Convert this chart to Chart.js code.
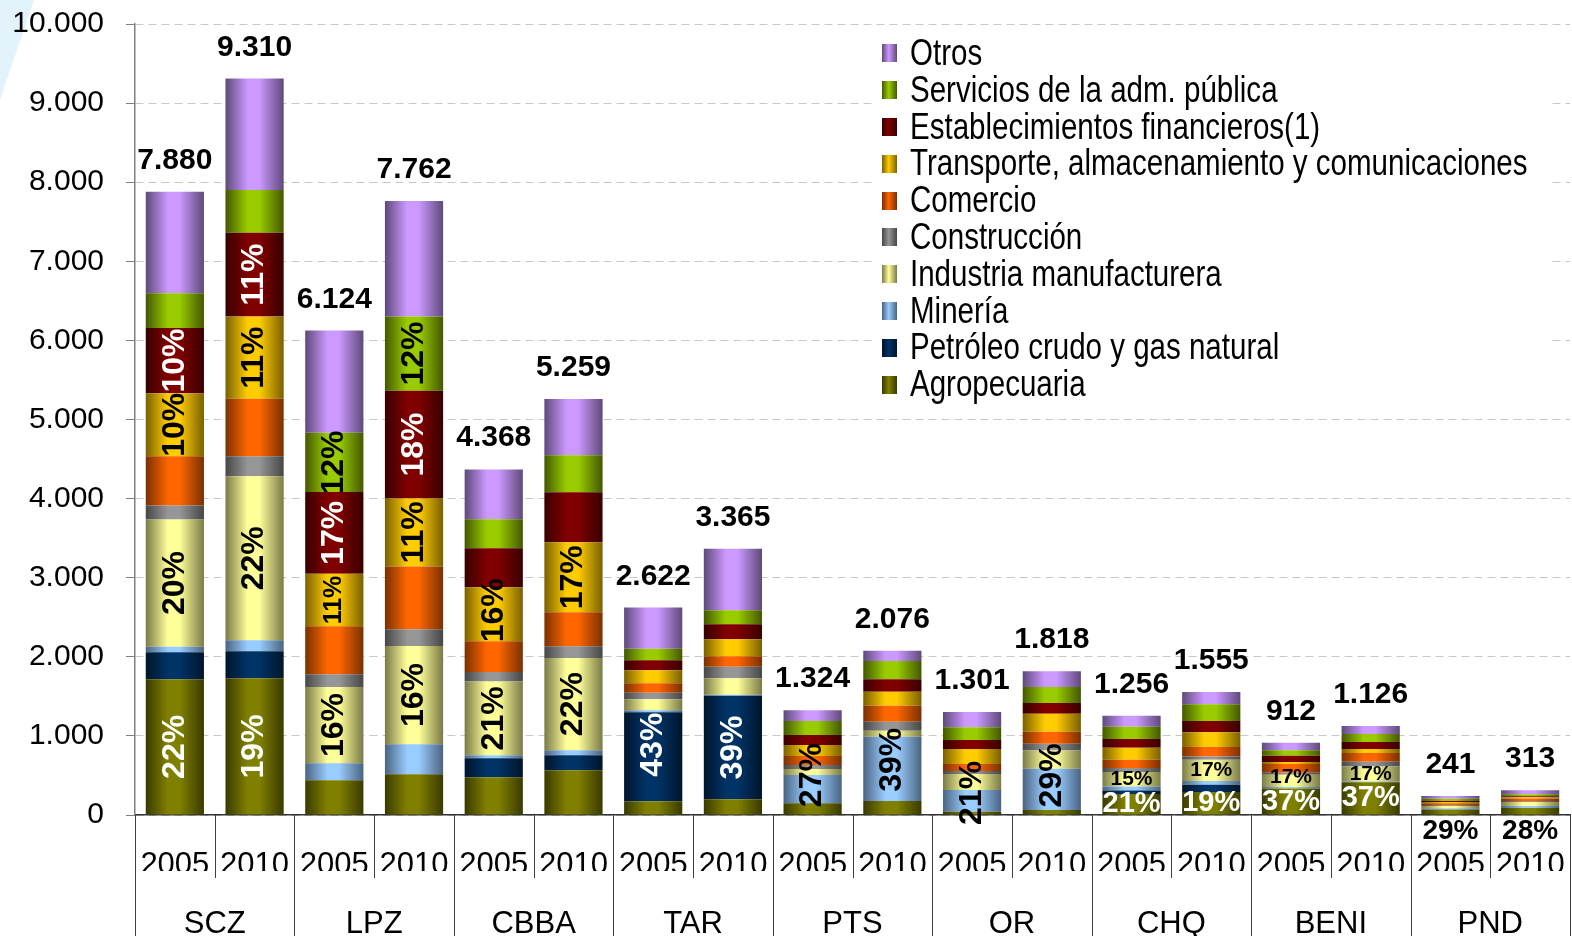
<!DOCTYPE html>
<html>
<head>
<meta charset="utf-8">
<title>PIB departamental por actividad</title>
<script src="https://cdn.jsdelivr.net/npm/chart.js@4.4.1/dist/chart.umd.min.js"></script>
<style>
  html, body { margin: 0; padding: 0; background: #fff; width: 1572px; height: 936px; overflow: hidden; }
  #wrap { position: relative; width: 1572px; height: 936px; }
  #corner { position: absolute; left: 0; top: 0; width: 34px; height: 100px; background: #e2f3fb; clip-path: polygon(0 0, 100% 0, 0 100%); }
  #chart { position: absolute; left: 0; top: 0; }
  #legend { position: absolute; left: 872px; top: 35px; width: 668px; padding-left: 10px; background: #fff;
            font-family: "Liberation Sans", Arial, sans-serif; font-size: 36px; color: #000; }
  .item { display: flex; align-items: center; height: 36.8px; line-height: 36.8px; white-space: nowrap; }
  .sw { width: 15px; height: 18px; margin-right: 13px; flex: none; }
  .txt { display: inline-block; transform: scaleX(0.82); transform-origin: left center; }
</style>
</head>
<body>
<div id="wrap">
  <div id="corner"></div>
  <canvas id="chart" width="1572" height="936"></canvas>
  <div id="legend"></div>
</div>
<script>
const SANS = '"Liberation Sans", Arial, sans-serif';

// categories
const regions = ['SCZ', 'LPZ', 'CBBA', 'TAR', 'PTS', 'OR', 'CHQ', 'BENI', 'PND'];
const years = ['2005', '2010'];
const barLabels = regions.flatMap(() => years);

// series values, one per bar (SCZ 2005, SCZ 2010, LPZ 2005, ...)
const agropecuaria = [1716, 1728, 440, 516, 476, 565, 175, 198, 148, 177, 40, 63, 265, 292, 335, 415, 70, 88];
const petroleo     = [341, 341, 0, 0, 240, 189, 1125, 1311, 0, 0, 0, 0, 45, 92, 0, 0, 0, 0];
const mineria      = [71, 139, 215, 379, 38, 64, 23, 12, 358, 813, 276, 522, 50, 45, 20, 8, 15, 25];
const industria    = [1609, 2074, 964, 1242, 935, 1167, 139, 207, 76, 76, 202, 231, 185, 268, 155, 190, 30, 50];
const construccion = [177, 252, 160, 210, 118, 147, 85, 147, 50, 114, 38, 85, 50, 42, 25, 60, 10, 15];
const comercio     = [620, 728, 606, 796, 389, 430, 118, 131, 114, 202, 89, 151, 105, 121, 110, 112, 25, 30];
const transporte   = [799, 1039, 666, 859, 682, 885, 164, 215, 139, 177, 189, 228, 150, 187, 25, 50, 15, 15];
const financieros  = [825, 1060, 1031, 1363, 493, 632, 126, 189, 126, 156, 114, 135, 112, 142, 80, 88, 12, 15];
const servicios    = [438, 539, 749, 938, 367, 468, 148, 177, 177, 232, 161, 202, 154, 212, 70, 100, 30, 25];
const otros        = [1284, 1410, 1293, 1459, 630, 712, 519, 778, 136, 129, 192, 201, 140, 154, 92, 103, 34, 50];

const seriesNames = ['Agropecuaria', 'Petróleo crudo y gas natural', 'Minería', 'Industria manufacturera',
  'Construcción', 'Comercio', 'Transporte, almacenamiento y comunicaciones', 'Establecimientos financieros(1)',
  'Servicios de la adm. pública', 'Otros'];
const seriesValues = [agropecuaria, petroleo, mineria, industria, construccion, comercio, transporte, financieros, servicios, otros];

// [edge, centre] colours for the shaded bars
const palette = [
  ['#3a3a00', '#808000'], ['#00152b', '#003366'], ['#4a6480', '#99ccff'], ['#7a7a48', '#ffff99'],
  ['#464646', '#969696'], ['#7a3000', '#ff6600'], ['#7a6000', '#ffcc00'], ['#380000', '#800000'],
  ['#445800', '#99cc00'], ['#5e4a7a', '#cc99ff']
];

// which segments carry a percentage label: [bar, series, style, nudge]
const pctLabels = [
  [0, 0, 'vw'], [0, 3, 'vb'], [0, 6, 'vb'], [0, 7, 'vw'],
  [1, 0, 'vw'], [1, 3, 'vb'], [1, 6, 'vb'], [1, 7, 'vw'],
  [2, 3, 'vb'], [2, 6, 'vbs'], [2, 7, 'vw'], [2, 8, 'vb'],
  [3, 3, 'vb'], [3, 6, 'vb'], [3, 7, 'vw'], [3, 8, 'vb'],
  [4, 3, 'vb'], [4, 6, 'vb', -4], [5, 3, 'vb'], [5, 6, 'vb'],
  [6, 1, 'vw', -12], [7, 1, 'vw'],
  [8, 2, 'vb', -14], [9, 2, 'vb', -9], [10, 2, 'vb', -8], [11, 2, 'vb', -14],
  [12, 0, 'hw'], [12, 3, 'hs'], [13, 0, 'hw'], [13, 3, 'hs'],
  [14, 0, 'hw'], [14, 3, 'hs', -4], [15, 0, 'hw'], [15, 3, 'hs'],
  [16, 0, 'below'], [17, 0, 'below']
];
const labelStyles = {
  vw: { rot: true, color: '#fff', size: 32 },
  vb: { rot: true, color: '#000', size: 32 },
  vbs: { rot: true, color: '#000', size: 25 },
  hw: { rot: false, color: '#fff', size: 29 },
  hs: { rot: false, color: '#000', size: 21 },
  below: { rot: false, color: '#000', size: 28, below: true }
};

const BAR_PCT = 0.73;
const totals = barLabels.map((_, i) => seriesValues.reduce((t, s) => t + s[i], 0));

function fmt(v) {
  return String(v).replace(/\B(?=(\d{3})+(?!\d))/g, '.');
}

function barGradient(pal) {
  return (c) => {
    const chart = c.chart;
    const xs = chart.scales.x;
    if (!chart.chartArea || !xs || c.dataIndex === undefined) return pal[1];
    const cx = xs.getPixelForValue(c.dataIndex);
    const half = xs.width / barLabels.length * BAR_PCT / 2;
    const g = chart.ctx.createLinearGradient(cx - half, 0, cx + half, 0);
    g.addColorStop(0, pal[0]);
    g.addColorStop(0.38, pal[1]);
    g.addColorStop(0.58, pal[1]);
    g.addColorStop(1, pal[0]);
    return g;
  };
}

const segmentLabels = {
  id: 'segmentLabels',
  afterDatasetsDraw(chart) {
    const ctx = chart.ctx;
    ctx.save();
    ctx.textAlign = 'center';
    ctx.textBaseline = 'middle';
    pctLabels.forEach(([bar, s, style, nudge = 0]) => {
      const st = labelStyles[style];
      const el = chart.getDatasetMeta(s).data[bar];
      const text = Math.round(seriesValues[s][bar] / totals[bar] * 100) + '%';
      const cy = (st.below ? el.base + 17 : (el.y + el.base) / 2) + nudge;
      ctx.font = `bold ${st.size}px ${SANS}`;
      ctx.fillStyle = st.color;
      ctx.save();
      ctx.translate(el.x, cy);
      if (st.rot) ctx.rotate(-Math.PI / 2);
      ctx.fillText(text, 0, 0);
      ctx.restore();
    });
    ctx.font = `bold 30px ${SANS}`;
    ctx.fillStyle = '#000';
    ctx.textBaseline = 'alphabetic';
    const tops = chart.getDatasetMeta(seriesValues.length - 1).data;
    totals.forEach((t, i) => ctx.fillText(fmt(t), tops[i].x, chart.scales.y.getPixelForValue(t) - 23));
    ctx.restore();
  }
};

// vertical rules of the two-level category table under the axis
const axisTable = {
  id: 'axisTable',
  afterDraw(chart) {
    const xs = chart.scales.x;
    const ctx = chart.ctx;
    const step = xs.width / barLabels.length;
    ctx.save();
    ctx.strokeStyle = '#404040';
    ctx.lineWidth = 1;
    for (let i = 0; i <= barLabels.length; i++) {
      const x = Math.round(xs.left + i * step) + 0.5;
      const bottom = i % years.length === 0 ? chart.height : xs.bottom + 7;
      ctx.beginPath();
      ctx.moveTo(x, xs.top);
      ctx.lineTo(x, bottom);
      ctx.stroke();
    }
    ctx.restore();
  }
};

function fixHeight(h) {
  return s => { s.height = h; s.paddingLeft = 0; s.paddingRight = 0; };
}

new Chart(document.getElementById('chart'), {
  type: 'bar',
  data: {
    labels: barLabels,
    datasets: seriesValues.map((vals, i) => ({
      label: seriesNames[i],
      data: vals,
      backgroundColor: barGradient(palette[i]),
      borderWidth: 0,
      barPercentage: BAR_PCT,
      categoryPercentage: 1
    }))
  },
  options: {
    responsive: false,
    devicePixelRatio: 1,
    animation: false,
    layout: { padding: { top: 24, right: 2, left: 0, bottom: 0 } },
    plugins: { legend: { display: false }, tooltip: { enabled: false } },
    scales: {
      x: {
        type: 'category', stacked: true, offset: true,
        grid: { display: false },
        border: { display: true, color: '#333', width: 1.5 },
        ticks: { font: { family: SANS, size: 31 }, color: '#000', padding: 24, maxRotation: 0, autoSkip: false },
        afterFit: fixHeight(56)
      },
      x2: {
        type: 'category', labels: regions, offset: true, position: 'bottom',
        grid: { display: false },
        border: { display: false },
        ticks: { font: { family: SANS, size: 31 }, color: '#000', padding: 27, maxRotation: 0, autoSkip: false },
        afterFit: fixHeight(65)
      },
      y: {
        stacked: true, min: 0, max: 10000,
        ticks: { stepSize: 1000, font: { family: SANS, size: 30 }, color: '#000', padding: 22, callback: v => fmt(v) },
        grid: { color: '#c8c8c8', tickColor: '#808080', tickLength: 9, tickBorderDash: [] },
        border: { color: '#808080', width: 1.5, dash: [8, 5] },
        afterFit: s => { s.width = 135; s.paddingTop = 0; s.paddingBottom = 0; }
      }
    }
  },
  plugins: [segmentLabels, axisTable]
});

document.getElementById('legend').innerHTML = seriesNames.map((name, i) => ({ name, pal: palette[i] }))
  .reverse()
  .map(d => `<div class="item"><span class="sw" style="background:linear-gradient(to right, ${d.pal[0]}, ${d.pal[1]} 45%, ${d.pal[0]})"></span><span class="txt">${d.name}</span></div>`)
  .join('');
</script>
</body>
</html>
